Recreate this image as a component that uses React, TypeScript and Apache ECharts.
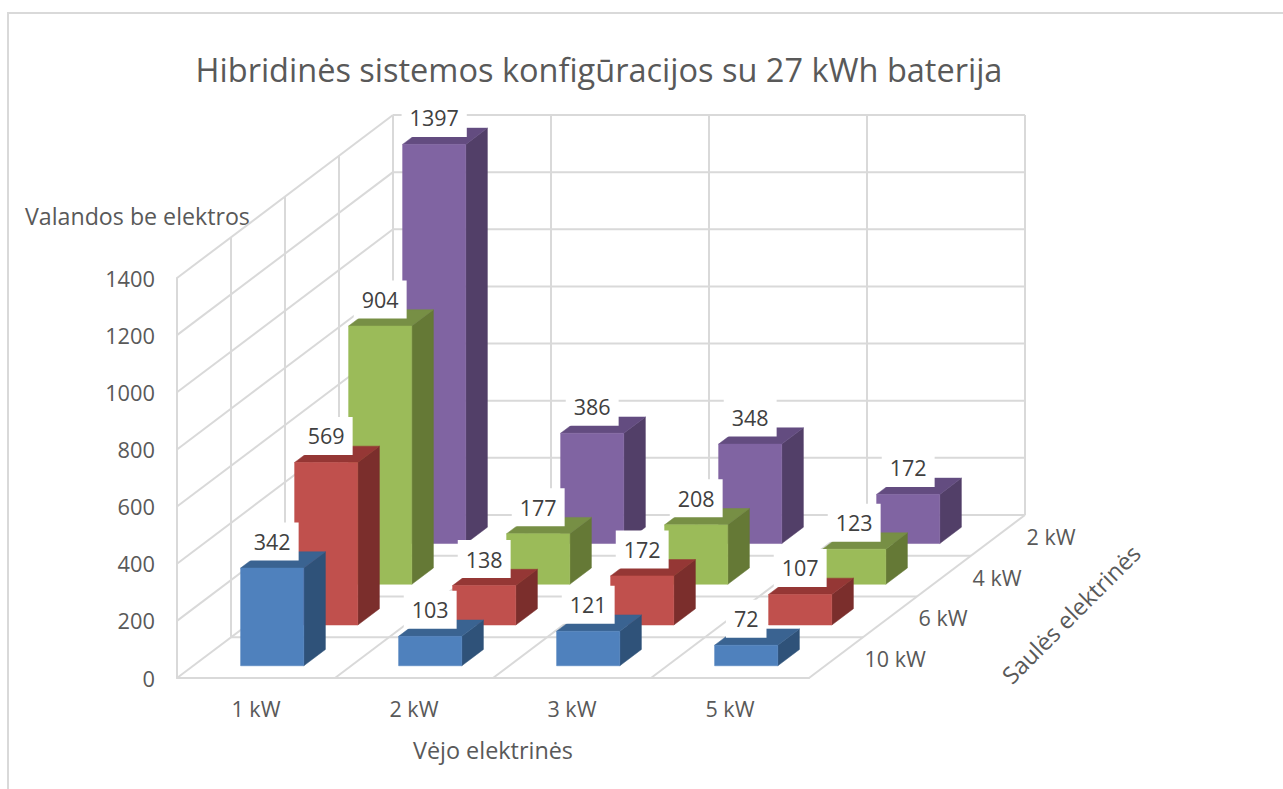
import React, { useEffect, useRef } from "react";
import * as echarts from "echarts";

const titleText = "Hibridinės sistemos konfigūracijos su 27 kWh baterija";
const windCategories = ["1 kW", "2 kW", "3 kW", "5 kW"];
const solarRows = ["10 kW", "6 kW", "4 kW", "2 kW"];
const valueTicks = [0, 200, 400, 600, 800, 1000, 1200, 1400];

const solar10 = [342, 103, 121, 72];
const solar6 = [569, 138, 172, 107];
const solar4 = [904, 177, 208, 123];
const solar2 = [1397, 386, 348, 172];
const rowValues = [solar10, solar6, solar4, solar2];

const frontColors = ["#4F81BD", "#C0504D", "#9BBB59", "#8064A2"];
const topColors = ["#3A6391", "#953735", "#778F45", "#634C80"];
const sideColors = ["#2F5279", "#7B2E2C", "#657936", "#523F68"];

// oblique projection: screen offset of one floor row
const DX = 54;
const DY = -40.75;
const BAR_FRACTION = 0.4;
const GRID_COLOR = "#D9D9D9";
const TEXT = "#595959";
const FONT = "'Open Sans'";

function project(api: any, cat: number, value: number, row: number) {
  const band = api.size([1, 0])[0];
  const p = api.coord([0, value]);
  return [p[0] - band / 2 + cat * band + row * DX, p[1] + row * DY];
}

function renderWalls(_p: any, api: any) {
  const lines: any[] = [];
  const add = (a: number[], b: number[]) =>
    lines.push({
      type: "line",
      shape: { x1: a[0], y1: a[1], x2: b[0], y2: b[1] },
      style: { stroke: GRID_COLOR, lineWidth: 2 },
    });
  const n = windCategories.length;
  const m = solarRows.length;
  const top = valueTicks[valueTicks.length - 1];
  valueTicks.forEach((v) => {
    add(project(api, 0, v, 0), project(api, 0, v, m));
    add(project(api, 0, v, m), project(api, n, v, m));
  });
  for (let r = 1; r <= m; r++) add(project(api, 0, 0, r), project(api, 0, top, r));
  for (let i = 1; i <= n; i++) add(project(api, i, 0, m), project(api, i, top, m));
  for (let i = 1; i <= n; i++) add(project(api, i, 0, 0), project(api, i, 0, m));
  for (let r = 1; r < m; r++) add(project(api, 0, 0, r), project(api, n, 0, r));
  return { type: "group", children: lines };
}

function barRenderer(row: number) {
  return (_p: any, api: any) => {
    const cat = api.value(0);
    const v = api.value(1);
    const gap = (1 - BAR_FRACTION) / 2;
    const x0 = cat + gap;
    const x1 = cat + 1 - gap;
    const r0 = row + gap;
    const r1 = row + 1 - gap;
    const poly = (pts: number[][], fill: string) => ({
      type: "polygon",
      shape: { points: pts },
      style: { fill, stroke: fill, lineWidth: 0.5 },
    });
    return {
      type: "group",
      children: [
        poly(
          [project(api, x1, 0, r0), project(api, x1, 0, r1), project(api, x1, v, r1), project(api, x1, v, r0)],
          sideColors[row]
        ),
        poly(
          [project(api, x0, v, r0), project(api, x1, v, r0), project(api, x1, v, r1), project(api, x0, v, r1)],
          topColors[row]
        ),
        poly(
          [project(api, x0, 0, r0), project(api, x1, 0, r0), project(api, x1, v, r0), project(api, x0, v, r0)],
          frontColors[row]
        ),
      ],
    };
  };
}

function labelRenderer(row: number) {
  return (_p: any, api: any) => {
    const cat = api.value(0);
    const v = api.value(1);
    const gap = (1 - BAR_FRACTION) / 2;
    const p = project(api, cat + 0.5, v, row + gap);
    return {
      type: "text",
      x: p[0],
      y: p[1] - 26.5,
      style: {
        text: String(v),
        fill: "#404040",
        font: `21.5px ${FONT}`,
        align: "center",
        verticalAlign: "middle",
        backgroundColor: "#FFFFFF",
        padding: [8, 8, 8, 8],
      },
    };
  };
}

function renderRowLabel(_p: any, api: any) {
  const row = api.value(0);
  const p = project(api, windCategories.length, 0, row + 0.5);
  return {
    type: "text",
    x: p[0] + 28.5,
    y: p[1] + 1,
    style: {
      text: solarRows[row],
      fill: TEXT,
      font: `21.5px ${FONT}`,
      align: "left",
      verticalAlign: "middle",
    },
  };
}

export default function App() {
  const ref = useRef<HTMLDivElement>(null);
  useEffect(() => {
    const chart = echarts.init(ref.current!, undefined, { renderer: "svg" });
    const catData = (vals: number[]) => vals.map((v, i) => [i, v]);
    const series: any[] = [
      {
        type: "custom",
        name: "walls",
        z: 1,
        silent: true,
        renderItem: renderWalls,
        data: [[0, 0]],
        encode: { x: 0, y: 1 },
      },
    ];
    for (let r = solarRows.length - 1; r >= 0; r--) {
      series.push({
        type: "custom",
        name: solarRows[r],
        z: 2 + (solarRows.length - r),
        renderItem: barRenderer(r),
        data: catData(rowValues[r]),
        encode: { x: 0, y: 1 },
      });
    }
    rowValues.forEach((vals, r) => {
      series.push({
        type: "custom",
        name: solarRows[r] + " labels",
        z: 20 + (solarRows.length - r),
        renderItem: labelRenderer(r),
        data: catData(vals),
        encode: { x: 0, y: 1 },
      });
    });
    series.push({
      type: "custom",
      name: "row labels",
      z: 30,
      renderItem: renderRowLabel,
      data: solarRows.map((_, r) => [r, 0]),
      encode: { x: 0, y: 1 },
    });
    chart.setOption({
      animation: false,
      backgroundColor: "#FFFFFF",
      title: {
        text: titleText,
        left: 594,
        top: 48,
        textAlign: "center",
        textStyle: { fontFamily: FONT, fontSize: 32.5, fontWeight: "normal", color: TEXT },
      },
      grid: { left: 177, top: 278, width: 632, height: 400 },
      xAxis: {
        type: "category",
        data: windCategories,
        boundaryGap: true,
        axisLine: { show: true, lineStyle: { color: GRID_COLOR, width: 2 } },
        axisTick: { show: false },
        splitLine: { show: false },
        axisLabel: { color: TEXT, fontFamily: FONT, fontSize: 21.5, margin: 19 },
        name: "Vėjo elektrinės",
        nameLocation: "middle",
        nameGap: 60,
        nameTextStyle: { color: TEXT, fontFamily: FONT, fontSize: 23.4 },
      },
      yAxis: {
        type: "value",
        min: 0,
        max: 1400,
        interval: 200,
        axisLine: { show: true, lineStyle: { color: GRID_COLOR, width: 2 } },
        axisTick: { show: false },
        splitLine: { show: false },
        axisLabel: {
          color: TEXT,
          fontFamily: FONT,
          fontSize: 21.8,
          margin: 22,
          padding: [4, 0, 0, 0],
          formatter: (v: number) => String(v),
        },
      },
      graphic: [
        {
          type: "polyline",
          z: -1,
          silent: true,
          shape: { points: [[8, 789], [8, 13], [1283, 13]] },
          style: { fill: "none", stroke: GRID_COLOR, lineWidth: 2 },
        },
        {
          type: "text",
          x: 25,
          y: 216,
          style: {
            text: "Valandos be elektros",
            fill: TEXT,
            font: `23.2px ${FONT}`,
            align: "left",
            verticalAlign: "middle",
          },
        },
        {
          type: "text",
          x: 1071,
          y: 614,
          rotation: (45 * Math.PI) / 180,
          style: {
            text: "Saulės elektrinės",
            fill: TEXT,
            font: `23.5px ${FONT}`,
            align: "center",
            verticalAlign: "middle",
          },
        },
      ],
      series,
    });
    return () => chart.dispose();
  }, []);
  return <div ref={ref} style={{ position: "absolute", left: 0, top: 0, width: 1283, height: 789 }} />;
}
